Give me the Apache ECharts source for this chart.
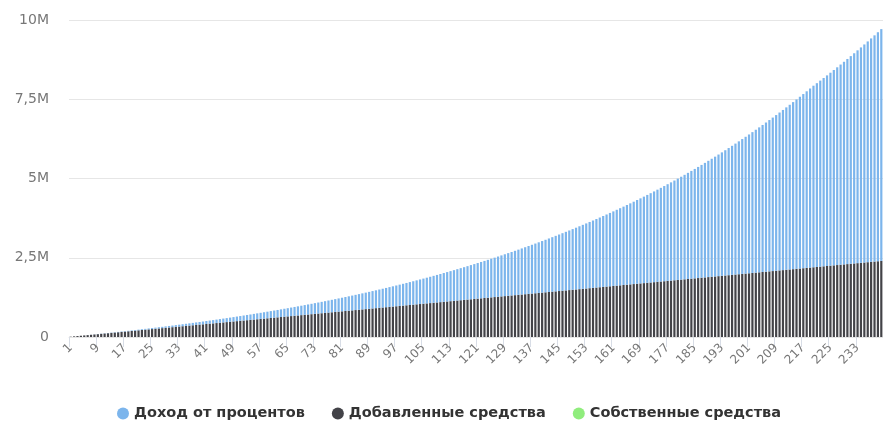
<!DOCTYPE html>
<html>
<head>
<meta charset="utf-8">
<script src="https://cdn.jsdelivr.net/npm/echarts@6/dist/echarts.min.js"></script>
<style>
html,body{margin:0;padding:0;background:#fff;}
#chart{width:883px;height:421px;}
</style>
</head>
<body>
<div id="chart"></div>
<script>
// Month numbers (categories)
const categories = [
1,2,3,4,5,6,7,8,9,10,11,12,13,14,15,16,17,18,19,20,21,22,23,24,25,26,27,28,29,30,31,32,33,34,35,36,37,38,39,40,
41,42,43,44,45,46,47,48,49,50,51,52,53,54,55,56,57,58,59,60,61,62,63,64,65,66,67,68,69,70,71,72,73,74,75,76,77,78,79,80,
81,82,83,84,85,86,87,88,89,90,91,92,93,94,95,96,97,98,99,100,101,102,103,104,105,106,107,108,109,110,111,112,113,114,115,116,117,118,119,120,
121,122,123,124,125,126,127,128,129,130,131,132,133,134,135,136,137,138,139,140,141,142,143,144,145,146,147,148,149,150,151,152,153,154,155,156,157,158,159,160,
161,162,163,164,165,166,167,168,169,170,171,172,173,174,175,176,177,178,179,180,181,182,183,184,185,186,187,188,189,190,191,192,193,194,195,196,197,198,199,200,
201,202,203,204,205,206,207,208,209,210,211,212,213,214,215,216,217,218,219,220,221,222,223,224,225,226,227,228,229,230,231,232,233,234,235,236,237,238,239,240
];

// "Доход от процентов" (thousands)
const interestIncome = [
0,0,0,1,1,2,2,3,4,5,6,7,8,10,11,13,14,16,18,20,
22,25,27,30,32,35,38,41,45,48,51,55,59,63,67,71,75,80,84,89,
94,99,104,109,115,121,126,132,138,145,151,158,165,171,179,186,193,201,209,217,
225,233,242,251,259,269,278,287,297,307,317,327,338,348,359,370,382,393,405,417,
429,441,454,467,480,493,507,520,534,549,563,578,593,608,624,639,655,672,688,705,
722,739,757,775,793,811,830,849,868,888,908,928,948,969,990,1012,1033,1055,1078,1100,
1123,1147,1170,1194,1219,1243,1269,1294,1320,1346,1372,1399,1426,1454,1482,1510,1539,1568,1597,1627,
1657,1688,1719,1751,1783,1815,1848,1881,1914,1948,1983,2018,2053,2089,2125,2162,2199,2237,2275,2314,
2353,2393,2433,2473,2515,2556,2598,2641,2684,2728,2772,2817,2862,2908,2955,3002,3050,3098,3146,3196,
3246,3296,3348,3399,3452,3505,3558,3613,3668,3723,3779,3836,3894,3952,4011,4071,4131,4192,4254,4316,
4379,4443,4508,4573,4639,4706,4774,4842,4911,4981,5052,5124,5196,5270,5344,5419,5494,5571,5649,5727,
5797,5868,5940,6013,6087,6162,6238,6315,6392,6471,6551,6631,6713,6795,6879,6964,7049,7136,7224,7313
];

// "Добавленные средства" (thousands)
const addedFunds = [
10,20,30,40,50,60,70,80,90,100,110,120,130,140,150,160,170,180,190,200,
210,220,230,240,250,260,270,280,290,300,310,320,330,340,350,360,370,380,390,400,
410,420,430,440,450,460,470,480,490,500,510,520,530,540,550,560,570,580,590,600,
610,620,630,640,650,660,670,680,690,700,710,720,730,740,750,760,770,780,790,800,
810,820,830,840,850,860,870,880,890,900,910,920,930,940,950,960,970,980,990,1000,
1010,1020,1030,1040,1050,1060,1070,1080,1090,1100,1110,1120,1130,1140,1150,1160,1170,1180,1190,1200,
1210,1220,1230,1240,1250,1260,1270,1280,1290,1300,1310,1320,1330,1340,1350,1360,1370,1380,1390,1400,
1410,1420,1430,1440,1450,1460,1470,1480,1490,1500,1510,1520,1530,1540,1550,1560,1570,1580,1590,1600,
1610,1620,1630,1640,1650,1660,1670,1680,1690,1700,1710,1720,1730,1740,1750,1760,1770,1780,1790,1800,
1810,1820,1830,1840,1850,1860,1870,1880,1890,1900,1910,1920,1930,1940,1950,1960,1970,1980,1990,2000,
2010,2020,2030,2040,2050,2060,2070,2080,2090,2100,2110,2120,2130,2140,2150,2160,2170,2180,2190,2200,
2210,2220,2230,2240,2250,2260,2270,2280,2290,2300,2310,2320,2330,2340,2350,2360,2370,2380,2390,2400
];

// "Собственные средства" (thousands) — not visible in the picture
const ownFunds = [
0,0,0,0,0,0,0,0,0,0,0,0,0,0,0,0,0,0,0,0,0,0,0,0,0,0,0,0,0,0,0,0,0,0,0,0,0,0,0,0,
0,0,0,0,0,0,0,0,0,0,0,0,0,0,0,0,0,0,0,0,0,0,0,0,0,0,0,0,0,0,0,0,0,0,0,0,0,0,0,0,
0,0,0,0,0,0,0,0,0,0,0,0,0,0,0,0,0,0,0,0,0,0,0,0,0,0,0,0,0,0,0,0,0,0,0,0,0,0,0,0,
0,0,0,0,0,0,0,0,0,0,0,0,0,0,0,0,0,0,0,0,0,0,0,0,0,0,0,0,0,0,0,0,0,0,0,0,0,0,0,0,
0,0,0,0,0,0,0,0,0,0,0,0,0,0,0,0,0,0,0,0,0,0,0,0,0,0,0,0,0,0,0,0,0,0,0,0,0,0,0,0,
0,0,0,0,0,0,0,0,0,0,0,0,0,0,0,0,0,0,0,0,0,0,0,0,0,0,0,0,0,0,0,0,0,0,0,0,0,0,0,0
];

const seriesNames = ['Доход от процентов', 'Добавленные средства', 'Собственные средства'];
const yTickLabels = ['0', '2,5M', '5M', '7,5M', '10M'];
const yStep = 2500;

const chart = echarts.init(document.getElementById('chart'), null, {renderer: 'canvas'});
const labelFont = '"DejaVu Sans", Verdana, sans-serif';

chart.setOption({
  animation: false,
  backgroundColor: '#ffffff',
  grid: {left: 69, top: 20, width: 816, bottom: 84, containLabel: false},
  legend: {
    data: seriesNames,
    top: 401,
    left: 112,
    icon: 'circle',
    itemWidth: 12,
    itemHeight: 12,
    itemGap: 27,
    textStyle: {fontFamily: labelFont, fontSize: 14.5, fontWeight: 'bold', color: '#333333'}
  },
  xAxis: {
    type: 'category',
    data: categories,
    boundaryGap: true,
    axisLine: {show: true, lineStyle: {color: '#e6e6e6'}},
    axisTick: {show: true, interval: 7, length: 10, lineStyle: {color: '#d8dde6'}},
    axisLabel: {interval: 7, rotate: 45, fontSize: 12, color: '#777777', fontFamily: labelFont, margin: 9}
  },
  yAxis: {
    type: 'value',
    min: 0,
    max: 10000,
    interval: yStep,
    axisLine: {show: false},
    axisTick: {show: false},
    splitLine: {lineStyle: {color: '#e6e6e6'}},
    axisLabel: {
      fontSize: 14, color: '#777777', fontFamily: labelFont, margin: 20,
      formatter: v => yTickLabels[Math.round(v / yStep)]
    }
  },
  series: [
    {name: seriesNames[2], type: 'bar', stack: 'total', data: ownFunds, itemStyle: {color: '#90ed7d'}, barCategoryGap: '35%'},
    {name: seriesNames[1], type: 'bar', stack: 'total', data: addedFunds, itemStyle: {color: '#434348'}, barCategoryGap: '35%'},
    {name: seriesNames[0], type: 'bar', stack: 'total', data: interestIncome, itemStyle: {color: '#7cb5ec'}, barCategoryGap: '35%'}
  ]
});
</script>
</body>
</html>
